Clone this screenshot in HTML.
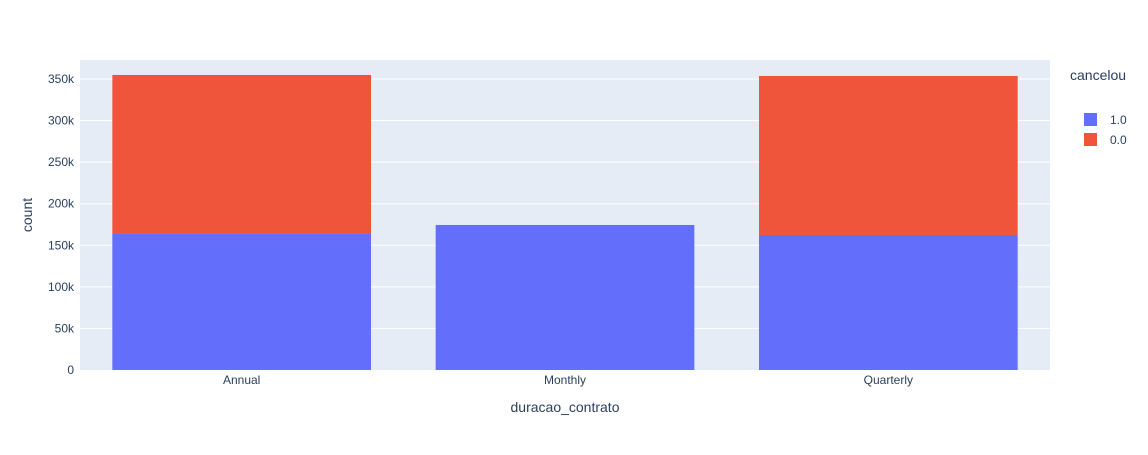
<!DOCTYPE html>
<html><head><meta charset="utf-8"><style>
body{margin:0;background:#fff;font-family:"Liberation Sans",Arial,sans-serif}
svg text{fill:#2a3f5f}
</style></head><body>
<svg id="chart" width="1148" height="450">
<rect x="80" y="60" width="970" height="310" fill="#e5ecf6"/>
<g id="grid"></g><g id="bars"></g><g id="ticks"></g>
<text x="565" y="412" font-size="14" text-anchor="middle">duracao_contrato</text>
<text transform="translate(32,215) rotate(-90)" font-size="14" text-anchor="middle">count</text>
<g>
<text x="1070" y="80" font-size="14">cancelou</text>
<g><rect x="1084" y="113" width="13" height="13" fill="#636efa"/><text x="1110" y="124" font-size="12">1.0</text></g>
<g><rect x="1084" y="133" width="13" height="13" fill="#ef553b"/><text x="1110" y="144" font-size="12">0.0</text></g>
</g>
</svg>
<script>
const categories=["Annual","Monthly","Quarterly"];
const series1=[163600,174400,162400];
const series0=[191200,0,191200];
const yTicks=[0,50000,100000,150000,200000,250000,300000,350000];
const yTickLabels=["0","50k","100k","150k","200k","250k","300k","350k"];
const ns="http://www.w3.org/2000/svg";
const x0=80,x1=1050,yB=370,yMaxVal=372800,plotH=310;
const y=v=>yB-v/yMaxVal*plotH;
const cw=(x1-x0)/categories.length;
const g=document.getElementById('grid'),b=document.getElementById('bars'),t=document.getElementById('ticks');
function mk(tag,a,p){const e=document.createElementNS(ns,tag);for(const k in a)e.setAttribute(k,a[k]);p.appendChild(e);return e;}
yTicks.forEach((v,i)=>{
 if(v>0){const l=mk('line',{x1:x0,x2:x1,y1:y(v),y2:y(v),stroke:'#fff','stroke-width':1},g);
 
 }
 const tx=mk('text',{x:x0-6,y:y(v)+4,'font-size':12,'text-anchor':'end'},t);tx.textContent=yTickLabels[i];
 
 
});
categories.forEach((c,i)=>{
 const cx=x0+cw*(i+0.5),bw=cw*0.8;
 const r1=mk('rect',{x:cx-bw/2,y:y(series1[i]),width:bw,height:yB-y(series1[i]),fill:'#636efa'},b);
 
 
 if(series0[i]>0){const top=series1[i]+series0[i];
 const r0=mk('rect',{x:cx-bw/2,y:y(top),width:bw,height:y(series1[i])-y(top),fill:'#ef553b'},b);
 
 }
 const tx=mk('text',{x:cx,y:yB+14,'font-size':12,'text-anchor':'middle'},t);tx.textContent=c;
 
 
});
</script>
</body></html>
